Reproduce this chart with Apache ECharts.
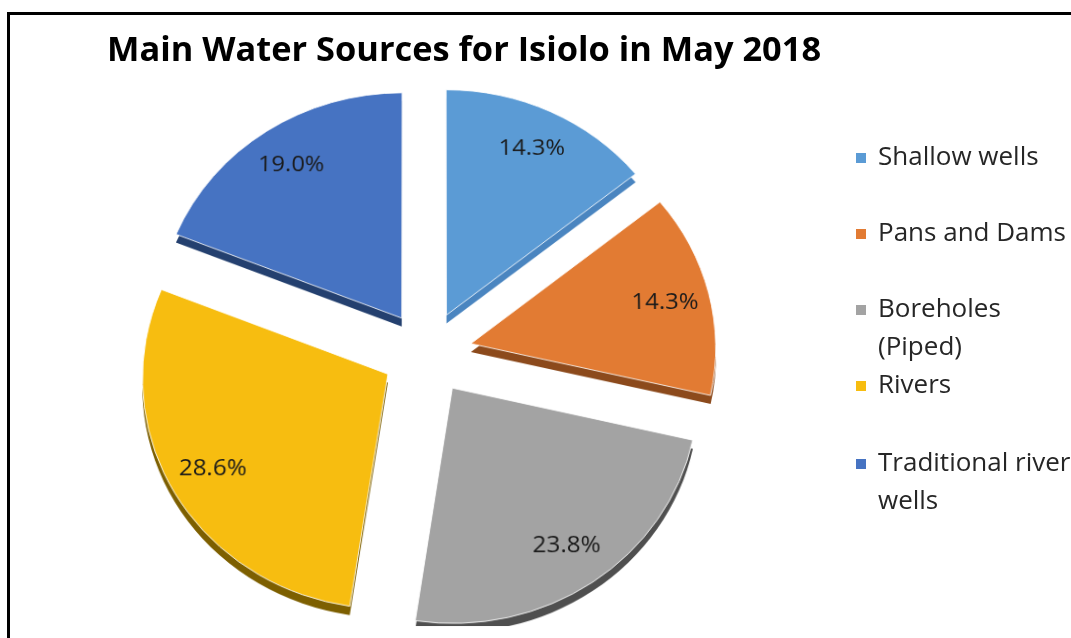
<!DOCTYPE html>
<html><head><meta charset="utf-8">
<script src="https://cdn.jsdelivr.net/npm/echarts@6/dist/echarts.min.js"></script>
<style>
html,body{margin:0;padding:0;background:#fff;overflow:hidden}
#frame{position:absolute;left:7px;top:12px;width:1100px;height:700px;border-left:3px solid #000;border-top:3px solid #000;box-sizing:border-box}
#pie{position:absolute;left:0;top:0;width:1071px;height:638px;transform-origin:427px 353px;transform:perspective(5000px) rotateX(20deg)}
#main{position:absolute;left:0;top:0;width:1071px;height:638px}
</style></head><body>
<div id="frame"></div><div id="pie"></div><div id="main"></div>
<script>
const categories = ['Shallow wells', 'Pans and Dams', 'Boreholes (Piped)', 'Rivers', 'Traditional river wells'];
const shares = [14.3, 14.3, 23.8, 28.6, 19.0];
const legendLabels = ['Shallow wells', 'Pans and Dams', 'Boreholes\n(Piped)', 'Rivers', 'Traditional river\nwells'];
const faceColors = ['#5B9BD5', '#E27B33', '#A3A3A3', '#F7BD10', '#4673C2'];
const sideColors = ['#4A85C0', '#8C4A1C', '#4F4F4F', '#7D5F00', '#24406F'];

const legendCenters = [156, 232, 308, 384, 462];
const FONT = 'Open Sans';
const CENTER = [427, 353];
const R = 245;
const OFFSET = 45;

function pieData(colors) {
  return categories.map((name, i) => ({
    name: name,
    value: shares[i],
    selected: true,
    itemStyle: { color: colors ? colors[i] : 'rgba(0,0,0,0)' }
  }));
}

const common = {
  type: 'pie',
  startAngle: 90,
  clockwise: true,
  selectedMode: 'multiple',
  selectedOffset: OFFSET,
  emphasis: { disabled: true },
  labelLine: { show: false }
};

// Pie faces, 3D side and value labels (tilted like the 3D original via CSS perspective)
const pieChart = echarts.init(document.getElementById('pie'), null, { renderer: 'canvas' });
pieChart.setOption({
  animation: false,
  series: [
    Object.assign({}, common, {
      name: 'Main Water Sources',
      z: 3,
      center: CENTER,
      radius: R,
      label: { show: false },
      itemStyle: { borderColor: 'rgba(255,255,255,0.85)', borderWidth: 1 },
      data: pieData(faceColors)
    }),
    Object.assign({}, common, {
      name: 'side',
      z: 1,
      silent: true,
      center: [CENTER[0], CENTER[1] + 9],
      radius: R,
      label: { show: false },
      data: pieData(sideColors)
    }),
    Object.assign({}, common, {
      name: 'labels',
      z: 4,
      silent: true,
      center: CENTER,
      radius: [149, R],
      label: {
        show: true,
        position: 'inside',
        formatter: p => p.value.toFixed(1) + '%',
        fontFamily: FONT,
        fontSize: 24,
        color: '#1a1a1a'
      },
      data: pieData(null)
    })
  ]
});

const legends = categories.map((name, i) => {
  const twoLine = legendLabels[i].indexOf('\n') >= 0;
  return {
    data: [{ name: name, itemStyle: { color: faceColors[i] } }],
    left: 856,
    top: legendCenters[i] - (twoLine ? 55 : 17),
    orient: 'vertical',
    padding: 0,
    icon: 'rect',
    itemWidth: 10,
    itemHeight: 10,
    selectedMode: false,
    formatter: () => (twoLine ? '\n' : '') + legendLabels[i],
    textStyle: {
      fontFamily: FONT,
      fontSize: 26,
      color: '#262626',
      lineHeight: 38,
      padding: [0, 0, 0, 7]
    }
  };
});

// Title and legend
const chart = echarts.init(document.getElementById('main'), null, { renderer: 'canvas' });
chart.setOption({
  animation: false,
  title: {
    text: 'Main Water Sources for Isiolo in May 2018',
    left: 107,
    top: 34,
    padding: 0,
    textStyle: { fontFamily: FONT, fontWeight: 'bold', fontSize: 34.4, color: '#000' }
  },
  legend: legends,
  series: [
    Object.assign({}, common, {
      name: 'legend source',
      silent: true,
      center: CENTER,
      radius: 0,
      label: { show: false },
      data: pieData(faceColors)
    })
  ]
});
</script>
</body></html>
